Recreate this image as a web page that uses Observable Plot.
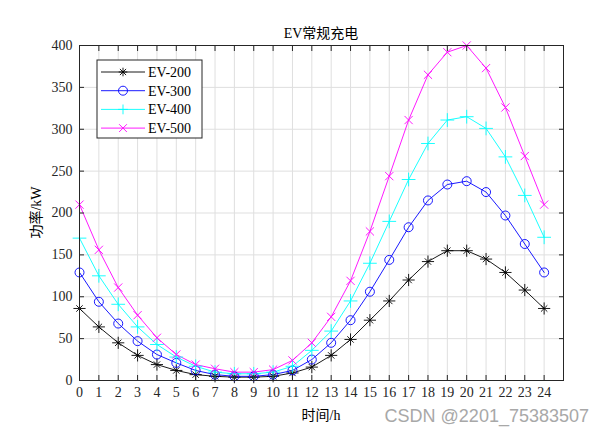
<!DOCTYPE html>
<html>
<head>
<meta charset="utf-8">
<script src="https://cdn.jsdelivr.net/npm/d3@7"></script>
<script src="https://cdn.jsdelivr.net/npm/@observablehq/plot@0.6"></script>
<style>
  html, body { margin: 0; padding: 0; background: #fff; }
  #chart { width: 604px; height: 435px; }
</style>
</head>
<body>
<div id="chart"></div>
<script>
const hours = [0,1,2,3,4,5,6,7,8,9,10,11,12,13,14,15,16,17,18,19,20,21,22,23,24];
const ev200 = [86,64,45,30,19,12,7,5,4,4,5,9,16,30,49,72,95,120,142,155,155,145,129,108,86];
const ev300 = [129,94,68,47,31,21,12,7,5,5,7,12,25,45,72,106,144,183,215,234,238,225,197,163,129];
const ev400 = [170,125,91,64,43,28,17,10,8,8,10,17,36,59,95,140,190,240,283,311,315,301,267,221,171];
const ev500 = [210,156,111,78,51,31,19,14,10,10,13,24,45,76,119,178,244,311,365,392,400,373,326,268,210];
const seriesNames = ["EV-200","EV-300","EV-400","EV-500"];
const seriesColors = ["#000000","#0000ff","#00ffff","#ff00ff"];
const xTicks = hours;
const yTicks = [0,50,100,150,200,250,300,350,400];
const titleText = "EV常规充电";
const xLabel = "时间/h";
const yLabel = "功率/kW";
const watermark = "CSDN @2201_75383507";

const seriesValues = [ev200, ev300, ev400, ev500];
const data = [];
seriesNames.forEach((name, k) => {
  hours.forEach((h, i) => data.push({hour: h, value: seriesValues[k][i], series: name}));
});
const bySeries = name => data.filter(d => d.series === name);

const W = 604, H = 435;
const mL = 79, mR = 41, mT = 45, mB = 55;
const serif = "'Liberation Serif','Times New Roman','Noto Sans CJK SC',serif";
const axisColor = "#262626";
const gridColor = "#dfdfdf";

const markOpts = {x: "hour", y: "value", stroke: "series"};

const plot = Plot.plot({
  width: W, height: H,
  marginLeft: mL, marginRight: mR, marginTop: mT, marginBottom: mB,
  style: {fontFamily: serif, fontSize: "14px", color: axisColor, background: "#fff", overflow: "visible"},
  x: {domain: [0, 25], label: null},
  y: {domain: [0, 400], label: null},
  color: {domain: seriesNames, range: seriesColors},
  marks: [
    Plot.gridX(xTicks, {stroke: gridColor, strokeOpacity: 1, strokeWidth: 1}),
    Plot.gridY(yTicks, {stroke: gridColor, strokeOpacity: 1, strokeWidth: 1}),
    Plot.line(data, {...markOpts, z: "series", strokeWidth: 0.9}),
    // EV-200: asterisk (plus + times overlay)
    Plot.dot(bySeries("EV-200"), {...markOpts, symbol: "plus", r: 4, strokeWidth: 0.9}),
    Plot.dot(bySeries("EV-200"), {...markOpts, symbol: "times", r: 3, strokeWidth: 0.9}),
    Plot.dot(bySeries("EV-300"), {...markOpts, symbol: "circle", r: 4.5, fill: "none", strokeWidth: 0.9}),
    Plot.dot(bySeries("EV-400"), {...markOpts, symbol: "plus", r: 4.5, strokeWidth: 0.9}),
    Plot.dot(bySeries("EV-500"), {...markOpts, symbol: "times", r: 3.8, strokeWidth: 0.9}),
    Plot.frame({stroke: axisColor, strokeWidth: 1}),
    Plot.axisX(xTicks, {anchor: "bottom", tickSize: -5, text: null, stroke: axisColor}),
    Plot.axisX(xTicks, {anchor: "top", tickSize: -5, text: null, stroke: axisColor}),
    Plot.axisY(yTicks, {anchor: "left", tickSize: -5, text: null, stroke: axisColor}),
    Plot.axisY(yTicks, {anchor: "right", tickSize: -5, text: null, stroke: axisColor}),
    Plot.axisX(xTicks, {anchor: "bottom", tickSize: 0, tickPadding: 7, fill: axisColor, fontSize: 14}),
    Plot.axisY(yTicks, {anchor: "left", tickSize: 0, tickPadding: 7, fill: axisColor, fontSize: 14})
  ]
});

const svg = d3.select(plot);
const cx = (mL + (W - mR)) / 2;

svg.append("text").attr("x", cx).attr("y", 38).attr("text-anchor", "middle")
  .attr("font-family", serif).attr("font-size", 14).attr("fill", "#000").text(titleText);
svg.append("text").attr("x", cx).attr("y", 420).attr("text-anchor", "middle")
  .attr("font-family", serif).attr("font-size", 14).attr("fill", "#000").text(xLabel);
svg.append("text").attr("transform", `translate(41,${(mT + H - mB) / 2}) rotate(-90)`)
  .attr("text-anchor", "middle").attr("font-family", serif).attr("font-size", 14).attr("fill", "#000").text(yLabel);

// Legend
const lg = svg.append("g");
lg.append("rect").attr("x", 97).attr("y", 60).attr("width", 105).attr("height", 78)
  .attr("fill", "#fff").attr("stroke", axisColor).attr("stroke-width", 1);
seriesNames.forEach((name, i) => {
  const y = 72 + i * 18.7;
  const c = seriesColors[i];
  lg.append("line").attr("x1", 101).attr("x2", 145).attr("y1", y).attr("y2", y)
    .attr("stroke", c).attr("stroke-width", 0.9);
  const g = lg.append("g").attr("transform", `translate(123,${y})`).attr("stroke", c).attr("fill", "none").attr("stroke-width", 0.9);
  const plus = r => g.append("path").attr("d", `M${-r},0H${r}M0,${-r}V${r}`);
  const times = r => g.append("path").attr("d", `M${-r},${-r}L${r},${r}M${-r},${r}L${r},${-r}`);
  if (i === 0) { plus(4.3); times(3.1); }
  if (i === 1) g.append("circle").attr("r", 4.5);
  if (i === 2) plus(4.9);
  if (i === 3) times(3.9);
  lg.append("text").attr("x", 148).attr("y", y).attr("dy", "0.35em").attr("text-anchor", "start")
    .attr("font-family", serif).attr("font-size", 14).attr("fill", "#000").text(name);
});

svg.append("text").attr("x", 589).attr("y", 422).attr("text-anchor", "end")
  .attr("font-family", "'Liberation Sans',Arial,sans-serif").attr("font-size", 18)
  .attr("fill", "#a8a8a8").text(watermark);

document.getElementById("chart").appendChild(plot);
</script>
</body>
</html>
